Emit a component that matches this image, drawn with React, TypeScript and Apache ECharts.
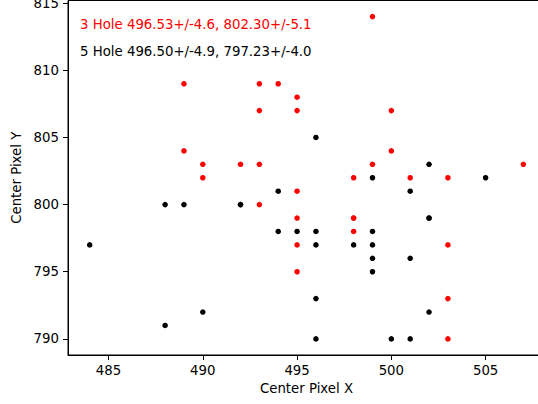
import React, { useEffect, useRef } from "react";
import * as echarts from "echarts";

// Hole centre positions (pixel units)
const hole3X = [489, 493, 494, 495, 493, 495, 499, 500, 489, 490, 492, 493, 490, 495, 493, 495, 495, 500, 499, 507, 498, 501, 503, 498, 498, 503, 495, 503, 503, 498];
const hole3Y = [809, 809, 809, 808, 807, 807, 814, 807, 804, 803, 803, 803, 802, 801, 800, 799, 797, 804, 803, 803, 802, 802, 802, 799, 798, 797, 795, 793, 790, 799];

const hole5X = [494, 488, 489, 492, 494, 495, 484, 496, 502, 499, 505, 501, 502, 496, 499, 496, 498, 499, 488, 490, 499, 501, 499, 496, 502, 496, 500, 501, 492, 502];
const hole5Y = [801, 800, 800, 800, 798, 798, 797, 805, 803, 802, 802, 801, 799, 798, 798, 797, 797, 797, 791, 792, 796, 796, 795, 793, 792, 790, 790, 790, 800, 799];

const xTicks = [485, 490, 495, 500, 505];
const yTicks = [790, 795, 800, 805, 810, 815];

const label3 = "3 Hole 496.53+/-4.6, 802.30+/-5.1";
const label5 = "5 Hole 496.50+/-4.9, 797.23+/-4.0";

const FONT = "DejaVu Sans";

export default function App() {
  const ref = useRef<HTMLDivElement>(null);

  useEffect(() => {
    if (!ref.current) return;
    const chart = echarts.init(ref.current, null, { renderer: "svg" });
    const pts = (xs: number[], ys: number[]) => xs.map((x, i) => [x, ys[i]]);

    chart.setOption({
      animation: false,
      backgroundColor: "#ffffff",
      grid: {
        left: 68,
        top: 0.5,
        right: -7,
        bottom: 49,
        containLabel: false,
        outerBoundsMode: "none",
        show: true,
        borderColor: "#000",
        borderWidth: 1,
      },
      xAxis: {
        type: "value",
        min: 482.85,
        max: 508.15,
        name: "Center Pixel X",
        nameLocation: "middle",
        nameGap: 26,
        nameTextStyle: { fontFamily: FONT, fontSize: 13.3, color: "#000" },
        splitLine: { show: false },
        axisLine: { show: true, onZero: false, lineStyle: { color: "#000", width: 1 } },
        axisTick: { show: true, length: 5, customValues: xTicks, lineStyle: { color: "#000" } },
        axisLabel: { customValues: xTicks, margin: 9, fontFamily: FONT, fontSize: 13.3, color: "#000" },
      },
      yAxis: {
        type: "value",
        min: 788.8,
        max: 815.2,
        name: "Center Pixel Y",
        nameLocation: "middle",
        nameGap: 40,
        nameTextStyle: { fontFamily: FONT, fontSize: 13.3, color: "#000" },
        splitLine: { show: false },
        axisLine: { show: true, onZero: false, lineStyle: { color: "#000", width: 1 } },
        axisTick: { show: true, length: 5, customValues: yTicks, lineStyle: { color: "#000" } },
        axisLabel: { customValues: yTicks, margin: 9, fontFamily: FONT, fontSize: 13.3, color: "#000" },
      },
      series: [
        {
          name: "5 Hole",
          type: "scatter",
          symbol: "circle",
          symbolSize: 5.5,
          itemStyle: { color: "#000000", opacity: 1 },
          data: pts(hole5X, hole5Y),
        },
        {
          name: "3 Hole",
          type: "scatter",
          symbol: "circle",
          symbolSize: 5.5,
          itemStyle: { color: "#ff0000", opacity: 1 },
          data: pts(hole3X, hole3Y),
        },
      ],
      graphic: [
        {
          type: "text",
          x: 80,
          y: 24,
          style: { text: label3, fill: "#ff0000", font: `13.3px ${FONT}`, verticalAlign: "middle" },
        },
        {
          type: "text",
          x: 80,
          y: 51,
          style: { text: label5, fill: "#000000", font: `13.3px ${FONT}`, verticalAlign: "middle" },
        },
      ],
    });

    return () => chart.dispose();
  }, []);

  return (
    <div
      ref={ref}
      style={{ position: "fixed", left: 0, top: 0, width: 538, height: 404 }}
    />
  );
}
